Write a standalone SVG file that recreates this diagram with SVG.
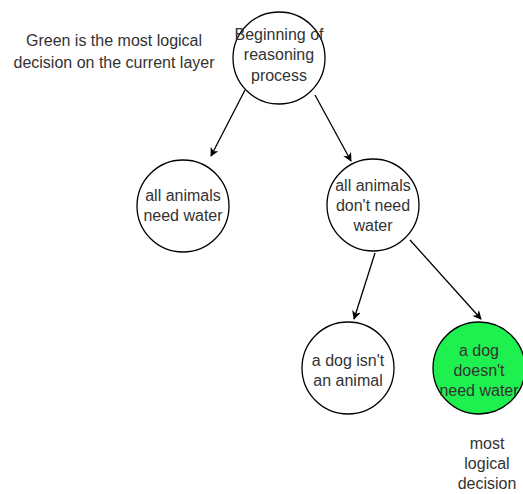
<svg xmlns="http://www.w3.org/2000/svg" width="523" height="494" viewBox="0 0 523 494">
<defs>
<style>
.node{fill:#ffffff;stroke:#000000;stroke-width:1.3}
.green{fill:#1ef050}
.t{font-family:"Liberation Sans",Arial,sans-serif;font-size:16px;fill:#333333;text-anchor:middle;dominant-baseline:central}
.edge{stroke:#000000;stroke-width:1.3;fill:none;marker-end:url(#arr)}
</style>
<marker id="arr" viewBox="0 0 10 10" refX="9" refY="5" markerWidth="9" markerHeight="9" markerUnits="userSpaceOnUse" orient="auto">
<path d="M0,0 L10,5 L0,10 L3,5 z" fill="#000000"/>
</marker>
</defs>
<rect width="523" height="494" fill="#ffffff"/>
<g id="connectors">
<line class="edge" x1="245" y1="90" x2="211" y2="156"/>
<line class="edge" x1="315" y1="95" x2="351" y2="161"/>
<line class="edge" x1="375" y1="253" x2="354" y2="319"/>
<line class="edge" x1="410" y1="240" x2="481" y2="319"/>
</g>
<g id="note">
<text class="t" x="114" y="40">Green is the most logical</text>
<text class="t" x="114" y="62">decision on the current layer</text>
</g>
<g id="n-start">
<circle class="node" cx="279" cy="58" r="46"/>
<text class="t" x="279" y="34">Beginning of</text>
<text class="t" x="279" y="54">reasoning</text>
<text class="t" x="279" y="75">process</text>
</g>
<g id="n-need">
<circle class="node" cx="183" cy="206" r="46"/>
<text class="t" x="183" y="195">all animals</text>
<text class="t" x="183" y="215">need water</text>
</g>
<g id="n-dontneed">
<circle class="node" cx="373" cy="205" r="46"/>
<text class="t" x="373" y="185">all animals</text>
<text class="t" x="373" y="205">don't need</text>
<text class="t" x="373" y="225">water</text>
</g>
<g id="n-notanimal">
<circle class="node" cx="348" cy="368" r="46"/>
<text class="t" x="348" y="360">a dog isn't</text>
<text class="t" x="348" y="380">an animal</text>
</g>
<g id="n-dog">
<circle class="node green" cx="479" cy="368" r="46"/>
<text class="t" x="479" y="350">a dog</text>
<text class="t" x="479" y="370">doesn't</text>
<text class="t" x="479" y="390">need water</text>
</g>
<g id="label-most">
<text class="t" x="487" y="443">most</text>
<text class="t" x="487" y="463">logical</text>
<text class="t" x="487" y="483">decision</text>
</g>
</svg>
